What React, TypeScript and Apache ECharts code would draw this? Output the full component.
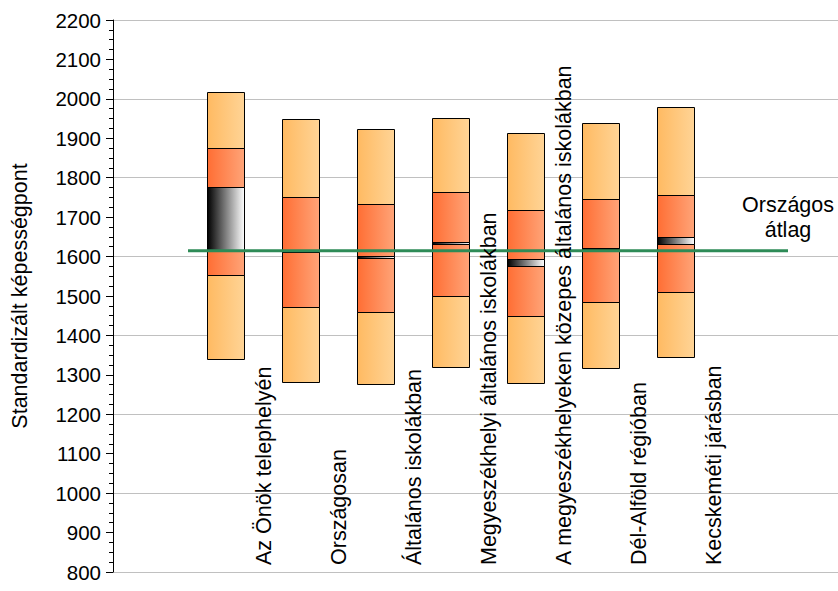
import React, { useEffect, useRef } from "react";
import * as echarts from "echarts";

const categories = [
  "Az Önök telephelyén",
  "Országosan",
  "Általános iskolákban",
  "Megyeszékhelyi általános iskolákban",
  "A megyeszékhelyeken közepes általános iskolákban",
  "Dél-Alföld régióban",
  "Kecskeméti járásban",
];
const p5 = [1342, 1284, 1277, 1320, 1279, 1317, 1345];
const p25 = [1553, 1474, 1461, 1502, 1449, 1484, 1509];
const p75 = [1875, 1752, 1734, 1765, 1717, 1745, 1755];
const p95 = [2018, 1950, 1924, 1952, 1913, 1938, 1979];
const ciLow = [1617, 1613, 1598, 1631, 1577, 1620, 1630];
const ciHigh = [1776, 1617, 1602, 1637, 1594, 1623, 1649];
const nationalMean = 1615;
const nationalLabel = "Országos\nátlag";
const yAxisName = "Standardizált képességpont";

const FONT = "'Liberation Sans', Arial, sans-serif";

export default function App() {
  const ref = useRef<HTMLDivElement>(null);
  useEffect(() => {
    if (!ref.current) return;
    const chart = echarts.init(ref.current, undefined, { renderer: "svg" });
    const boxData = categories.map((c, i) => [i + 1.5, p5[i], p25[i], p75[i], p95[i], ciLow[i], ciHigh[i]]);
    const labelData = categories.map((c, i) => [i + 1.5, 800]);

    const outerFill = new echarts.graphic.LinearGradient(0, 0, 1, 0, [
      { offset: 0, color: "#FFBA62" },
      { offset: 1, color: "#FFD496" },
    ]);
    const innerFill = new echarts.graphic.LinearGradient(0, 0, 1, 0, [
      { offset: 0, color: "#FF6E34" },
      { offset: 1, color: "#FFA478" },
    ]);
    const ciFill = new echarts.graphic.LinearGradient(0, 0, 1, 0, [
      { offset: 0, color: "#000000" },
      { offset: 1, color: "#FFFFFF" },
    ]);

    chart.setOption({
      animation: false,
      backgroundColor: "#fff",
      grid: { left: 113, right: 0, top: 20, bottom: 19, containLabel: false },
      xAxis: {
        type: "value",
        min: 0,
        max: 725 / 75,
        show: false,
      },
      yAxis: [
        {
          type: "value",
          min: 800,
          max: 2200,
          interval: 100,
          position: "left",
          name: yAxisName,
          nameLocation: "middle",
          nameRotate: 90,
          nameGap: 82,
          nameTextStyle: { fontSize: 21.5, color: "#000", fontFamily: FONT },
          axisLine: { show: true, lineStyle: { color: "#000", width: 1 } },
          axisTick: { show: true, inside: false, length: 7, lineStyle: { color: "#000" } },
          minorTick: { show: true, splitNumber: 4, length: 4, lineStyle: { color: "#000" } },
          axisLabel: {
            fontSize: 20.5,
            color: "#000",
            fontFamily: FONT,
            margin: 12,
            formatter: (v: number) => String(v),
          },
          splitLine: { show: false },
        },
        {
          type: "value",
          min: 800,
          max: 2200,
          interval: 200,
          position: "left",
          axisLine: { show: false },
          axisTick: { show: false },
          axisLabel: { show: false },
          splitLine: { show: true, lineStyle: { color: "#C0C0C0", width: 1 } },
        },
      ],
      series: [
        {
          type: "custom",
          z: 2,
          data: boxData,
          encode: { x: 0, y: [1, 2, 3, 4] },
          renderItem: (params: any, api: any) => {
            const x = api.value(0);
            const w = api.size([0.49, 0])[0];
            const rect = (lo: number, hi: number, fill: any) => {
              const t = api.coord([x, hi]);
              const b = api.coord([x, lo]);
              return {
                type: "rect",
                shape: {
                  x: Math.round(t[0] - w / 2) + 0.5,
                  y: Math.round(t[1]) + 0.5,
                  width: Math.round(w),
                  height: Math.max(1, Math.round(b[1] - t[1])),
                },
                style: { fill, stroke: "#000", lineWidth: 1 },
              };
            };
            return {
              type: "group",
              children: [
                rect(api.value(1), api.value(4), outerFill),
                rect(api.value(2), api.value(3), innerFill),
                rect(api.value(5), api.value(6), ciFill),
              ],
            };
          },
        },
        {
          type: "line",
          z: 5,
          data: [[1, nationalMean], [9, nationalMean]],
          symbol: "none",
          lineStyle: { color: "#2E8B57", width: 3 },
          silent: true,
        },
        {
          type: "custom",
          z: 6,
          data: [[9, nationalMean]],
          encode: { x: 0, y: 1 },
          silent: true,
          renderItem: (params: any, api: any) => {
            const p = api.coord([api.value(0), api.value(1)]);
            return {
              type: "text",
              x: p[0],
              y: p[1] - 8,
              style: {
                text: nationalLabel,
                fontSize: 21.5,
                lineHeight: 25,
                fontFamily: FONT,
                fill: "#000",
                align: "center",
                verticalAlign: "bottom",
              },
            };
          },
        },
        {
          type: "custom",
          z: 7,
          data: labelData,
          encode: { x: 0, y: 1 },
          silent: true,
          renderItem: (params: any, api: any) => {
            const p = api.coord([api.value(0), api.value(1)]);
            return {
              type: "text",
              x: p[0] + 38,
              y: p[1] - 7,
              rotation: Math.PI / 2,
              style: {
                text: categories[params.dataIndex],
                fontSize: 21.5,
                fontFamily: FONT,
                fill: "#000",
                align: "left",
                verticalAlign: "middle",
              },
            };
          },
        },
      ],
    });
    return () => chart.dispose();
  }, []);
  return <div ref={ref} style={{ width: 838, height: 591, position: "absolute", left: 0, top: 0 }} />;
}
